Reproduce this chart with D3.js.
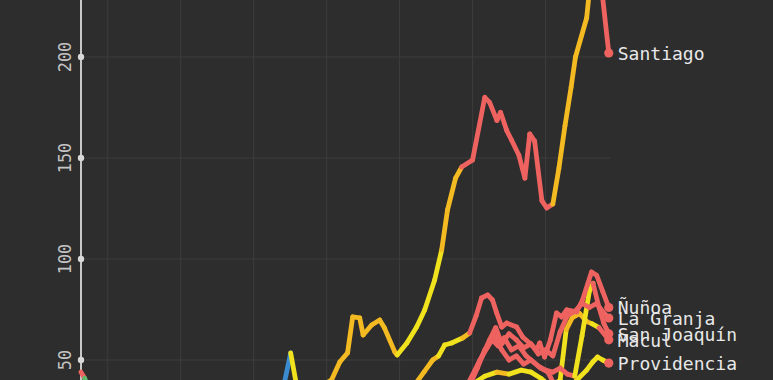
<!DOCTYPE html>
<html><head><meta charset="utf-8">
<script src="https://cdn.jsdelivr.net/npm/d3@7"></script>
<style>html,body{margin:0;padding:0;background:#2d2d2d;} svg{display:block}</style>
</head><body><svg id="c" width="773" height="380"></svg>
<script>
// [day, value, trend level]  (level: 0 blue, 0.5 green, 1 yellow, 2 gold, 3 red)
const providencia = [[-11,4,1],[30,8,1],[80,14,1],[120,24,1],[140,32,1],[150,38,1],[155,42,1],[160,44,2],[165,43,1],[170,45,1],[174,44,1],[178,41,1],[181,38,1],[185,35,1],[189,34,1],[192.8,40,1],[196.9,45,1],[199.4,49,1],[201.4,51.5,1],[203.5,50,1],[206,48.5,3]];
const macul = [[-11,3,1],[40,7,1],[90,15,2],[125,25,2],[140,32,3],[149,38,3],[152,46,3],[155,55,3],[158,60,3],[160.5,57,3],[163,61,3],[166,55,3],[169,57,3],[172,52,3],[175,49,3],[178,46,3],[181,44,3],[183.5,38,1],[186,40,1],[188.5,65,2],[191,71,2],[194,73,2],[197,69,2],[199,68,1],[202,66,3],[206,60,3]];
const sanJoaquin = [[-11,2,1],[40,6,1],[90,12,2],[125,22,2],[140,30,3],[147,36,3],[150,42,3],[153,50,3],[156,56,3],[159,62,3],[162,55,3],[165,50,3],[168,52,3],[171,48,3],[174,50,3],[177,47,3],[180,45,3],[183,44,3],[186,46,3],[189,43,3],[192,42,1],[195,62,1],[198,84,1],[199.5,88,3],[202,76,3],[204,68,3],[206,63,3]];
const laGranja = [[-11,3,1],[40,7,1],[90,14,2],[125,24,2],[140,31,2],[145,36,2],[148,38,3],[151,45,3],[154,52,3],[157,60,3],[159.5,66,3],[162,58,3],[165,63,3],[168,60,3],[171,56,3],[174,58,3],[177,53,3],[180,55,3],[183,52,3],[186,64,3],[189,72,3],[192,74,3],[195,78,3],[198,76,3],[201,78,3],[203.5,74,3],[206,70.8,3]];
const nunoa = [[-11,5,1],[20,8,1],[50,12,1],[80,18,2],[100,24,2],[115,30,2],[122,34,2],[127,39,2],[130,44,2],[133.6,50,2],[136,52,1],[138.5,57.4,1],[141.4,58.4,1],[145.9,60.9,2],[148.8,63.4,3],[151.5,72,3],[153.7,80.7,3],[156.2,82.2,3],[158.2,79.7,3],[159.9,73.3,3],[162,66.3,3],[164,68.3,3],[168.1,66.3,3],[170.6,61.4,3],[174.3,57.4,3],[176.3,55,3],[177.6,58.4,3],[179.6,51.5,3],[182,60,3],[184.5,73.3,3],[186.6,71.3,3],[188.7,74.8,3],[192.8,73.8,3],[195.2,79.7,3],[198.9,93.6,3],[201,92,3],[203.5,84,3],[206,76,3]];
const santiago = [[-11,44,3],[-9.5,41,0.5],[-6,30,0.5],[-2,22,0.5],[2,18,0.5],[7,15,0.5],[12,16,0.5],[17,17,0.5],[22,19,0.5],[27,21,0.5],[32,23,0.5],[37,25,0.5],[42,26,0.5],[47,28,0.5],[52,30,0.5],[57,31,0.5],[62,33,0.5],[66,34,0.5],[69,36,0],[72.5,38,0],[75.2,53.5,1],[77.7,37,2],[82,36,2],[86,37,2],[89,38,2],[92,40.1,2],[95.4,49,2],[98.6,53.5,2],[100.7,71.3,2],[103.6,70.8,2],[105,62.4,2],[108.5,67.3,2],[111.8,69.8,2],[113.8,65.8,2],[118,54,2],[119,52.5,1],[123,58.4,1],[127,66.3,1],[130.3,74.8,1],[134.4,89.6,1],[137.3,104.5,2],[139.7,124.3,2],[143,140,2],[145.5,145.5,3],[150,149,3],[155,180,3],[157,177.5,3],[160,168.6,3],[161.5,172.6,3],[164,163.7,3],[166,158.9,3],[169,151.5,3],[171.5,140,3],[173.5,161.9,3],[175.5,158.4,3],[178.5,128.8,3],[180.5,125.3,3],[183,127.2,2],[185.5,145,2],[188,166,2],[190.5,185,2],[192.3,200,2],[196.9,219.3,2],[199.5,250,3],[202.5,240,3],[206,202,3]];

const communes = ["Providencia","Macul","San Joaquín","La Granja","Ñuñoa","Santiago"];
const seriesData = [providencia, macul, sanJoaquin, laGranja, nunoa, santiago];
const yTicks = [50,100,150,200];
const yGrid = [0,50,100,150,200,250];
const xTicks = [0,30,60,90,120,150,180];
const levelStops = [0,0.5,1,2,3];
const levelColors = ["#3b8bd0","#5fb86c","#f1e21e","#f3ba22","#ee6360"];

const W = 773, H = 380;
const svg = d3.select("#c");
svg.append("rect").attr("width",W).attr("height",H).attr("fill","#2d2d2d");

const x = d3.scaleLinear().domain([-11,206.5]).range([81,610]);
const y = d3.scaleLinear().domain([0,200]).range([461,57]);
const color = d3.scaleLinear().domain(levelStops).range(levelColors);

// grid
svg.append("g").selectAll("line").data(xTicks).join("line")
  .attr("x1",d=>x(d)).attr("x2",d=>x(d)).attr("y1",0).attr("y2",H)
  .attr("stroke","#3d3d3d").attr("stroke-width",1);
svg.append("g").selectAll("line").data(yGrid).join("line")
  .attr("x1",x(-11)).attr("x2",610).attr("y1",d=>y(d)).attr("y2",d=>y(d))
  .attr("stroke","#3d3d3d").attr("stroke-width",1);

// axis
const ax = svg.append("g");
ax.append("line").attr("x1",81).attr("x2",81).attr("y1",0).attr("y2",H)
  .attr("stroke","#c8c8c8").attr("stroke-width",2);
ax.selectAll("circle").data(yTicks).join("circle")
  .attr("cx",81).attr("cy",d=>y(d)).attr("r",3.2).attr("fill","#d8d8d8");
ax.selectAll("text").data(yTicks).join("text")
  .attr("transform",d=>`translate(71,${y(d)}) rotate(-90)`)
  .attr("text-anchor","middle")
  .attr("font-family","DejaVu Sans Mono, monospace").attr("font-size",17)
  .attr("fill","#c4c4c4").text(d=>d);

// lines as colored segments
const lines = svg.append("g");
seriesData.forEach((s,si)=>{
  const g = lines.append("g");
  const segs = d3.pairs(s);
  g.selectAll("line").data(segs).join("line")
    .attr("x1",d=>x(d[0][0])).attr("y1",d=>y(d[0][1]))
    .attr("x2",d=>x(d[1][0])).attr("y2",d=>y(d[1][1]))
    .attr("stroke",d=>color(d[0][2])).attr("stroke-width",4.8)
    .attr("stroke-linecap","round");
  const last = s[s.length-1];
  g.append("circle").attr("cx",x(last[0])).attr("cy",y(last[1])).attr("r",4.6)
    .attr("fill",color(last[2]));
});

// labels
const labels = svg.append("g");
seriesData.forEach((s,si)=>{
  const last = s[s.length-1];
  labels.append("text").attr("x",x(last[0])+9).attr("y",y(last[1])+7)
    .attr("font-family","DejaVu Sans Mono, monospace").attr("font-size",18)
    .attr("fill","#e8e8e8").text(communes[si]);
});
</script></body></html>
